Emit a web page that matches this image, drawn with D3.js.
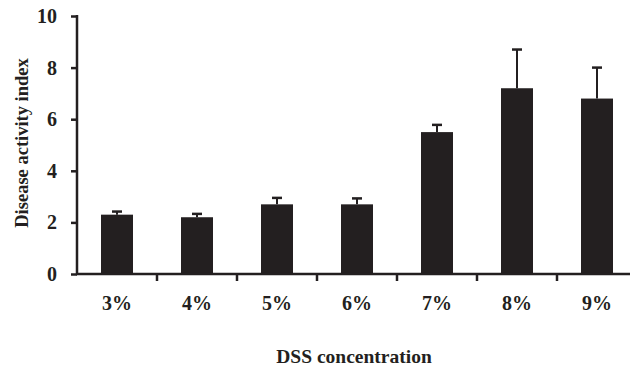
<!DOCTYPE html>
<html><head><meta charset="utf-8">
<script src="https://cdn.jsdelivr.net/npm/d3@7"></script>
<style>body{margin:0;background:#fff}svg{display:block}</style>
</head><body>
<svg id="c" width="630" height="367"></svg>
<script>
const categories = ["3%","4%","5%","6%","7%","8%","9%"];
const values = [2.3, 2.2, 2.7, 2.7, 5.5, 7.2, 6.8];
const errors = [0.12, 0.13, 0.25, 0.23, 0.28, 1.5, 1.2];
const yTicks = [0, 2, 4, 6, 8, 10];

const svg = d3.select("#c");
const font = "'Liberation Serif','Times New Roman',serif";
const x = d3.scaleBand().domain(categories).range([77, 637]).paddingInner(0.6).paddingOuter(0.3);
const y = d3.scaleLinear().domain([0, 10]).range([274, 16]);
const ink = "#231f20";

svg.append("g").selectAll("rect").data(values).join("rect")
  .attr("x", (d,i) => x(categories[i]))
  .attr("y", d => y(d))
  .attr("width", x.bandwidth())
  .attr("height", d => y(0) - y(d))
  .attr("fill", ink);

const eg = svg.append("g").attr("stroke", ink).attr("stroke-width", 2);
values.forEach((v,i) => {
  const cx = x(categories[i]) + x.bandwidth()/2;
  eg.append("line").attr("x1", cx).attr("x2", cx).attr("y1", y(v)).attr("y2", y(v+errors[i]));
  eg.append("line").attr("x1", cx-5).attr("x2", cx+5).attr("y1", y(v+errors[i])).attr("y2", y(v+errors[i])).attr("stroke-width", 2.5);
});

const ya = svg.append("g").attr("transform", "translate(77,0)")
  .call(d3.axisLeft(y).tickValues(yTicks).tickSize(6).tickPadding(14).tickFormat(d3.format("d")));
ya.select(".domain").attr("stroke", ink).attr("stroke-width", 2.5).attr("d", "M0,15V275");
ya.selectAll(".tick line").attr("stroke", ink).attr("stroke-width", 2.5);
ya.selectAll("text").attr("font-family", font).attr("font-weight", "bold").attr("font-size", 20).attr("fill", ink);

const xa = svg.append("g").attr("transform", "translate(0,274)")
  .call(d3.axisBottom(x).tickSize(0).tickPadding(22));
xa.select(".domain").attr("stroke", ink).attr("stroke-width", 2.5).attr("d", "M76,0H637");
xa.selectAll(".tick line").remove();
xa.selectAll("text").attr("font-family", font).attr("font-weight", "bold").attr("font-size", 20).attr("fill", ink);
const bounds = categories.slice(1).map(c => x(c) - x.step()*x.paddingInner()/2);
svg.append("g").selectAll("line").data(bounds).join("line")
  .attr("x1", d => d).attr("x2", d => d).attr("y1", 274).attr("y2", 281)
  .attr("stroke", ink).attr("stroke-width", 2.5);

svg.append("text").attr("transform", "translate(28,143) rotate(-90)")
  .attr("text-anchor", "middle").attr("font-family", font).attr("font-weight", "bold")
  .attr("font-size", 18.5).attr("fill", ink).text("Disease activity index");
svg.append("text").attr("x", 354).attr("y", 363)
  .attr("text-anchor", "middle").attr("font-family", font).attr("font-weight", "bold")
  .attr("font-size", 19.5).attr("fill", ink).text("DSS concentration");
</script>
</body></html>
